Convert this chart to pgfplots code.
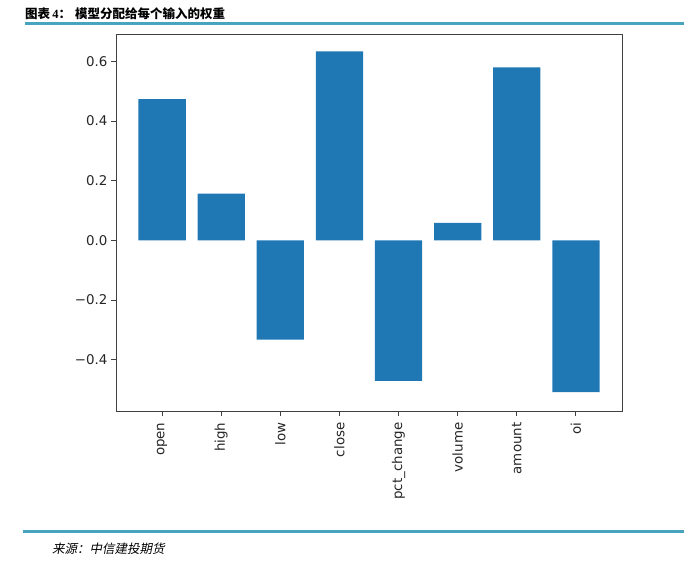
\documentclass[border=0pt]{standalone}
\usepackage{pgfplots}
\pgfplotsset{compat=1.18}
\usepackage{fontspec}
\setmainfont{DejaVu Sans}
\newfontfamily\cjk{Noto Sans CJK SC}
\newfontfamily\cjki[FakeSlant=0.2]{Noto Sans CJK SC}
\newfontfamily\serifb{Liberation Serif}
\definecolor{barblue}{HTML}{1F77B4}
\definecolor{rule}{RGB}{72,163,190}

\begin{document}
\begin{tikzpicture}[x=1bp,y=1bp]
\begin{axis}[
    scale only axis,
    width=506bp, height=377bp,
    xmin=-0.78, xmax=7.78,
    ymin=-0.572, ymax=0.692,
    axis line style={black!75, line width=0.9bp},
    xtick={0,...,7},
    xticklabels={open,high,low,close,pct\_change,volume,amount,oi},
    ytick={-0.4,-0.2,0,0.2,0.4,0.6},
    yticklabels={−0.4,−0.2,0.0,0.2,0.4,0.6},
    xticklabel style={rotate=90, anchor=east},
    xticklabel shift=3bp,
    tick align=outside,
    xtick pos=bottom, ytick pos=left,
    major tick length=5bp,
    tick style={black!75, line width=0.9bp},
    ticklabel style={font=\fontsize{13.4bp}{15bp}\selectfont, text=black!85},
    /pgf/number format/assume math mode=true,
]
\addplot[ybar, bar width=0.8, fill=barblue, draw=none, bar shift=0pt] coordinates {
    (0, 0.474)
    (1, 0.157)
    (2, -0.333)
    (3, 0.634)
    (4, -0.471)
    (5, 0.059)
    (6, 0.580)
    (7, -0.509)
};
\coordinate (A) at (rel axis cs:0,0);
\end{axis}
% page frame and header/footer, relative to the axis corner (116,154)
\begin{scope}[shift={(A)}]
\path[use as bounding box] (-116,-154) rectangle (584,411);
\draw[rule, line width=3bp] (-91,387.5) -- (568,387.5);
\node[anchor=west, inner sep=0pt] at (-91,397.5)
  {\fontsize{12.5bp}{14bp}\selectfont\cjk\bfseries 图表\,{\serifb\bfseries 4}：\hspace{4bp}模型分配给每个输入的权重};
\draw[rule, line width=3bp] (-93,-120.5) -- (568,-120.5);
\node[anchor=west, inner sep=0pt] at (-64,-138)
  {\fontsize{12.5bp}{14bp}\selectfont\cjki 来源：中信建投期货};
\end{scope}
\end{tikzpicture}
\end{document}
